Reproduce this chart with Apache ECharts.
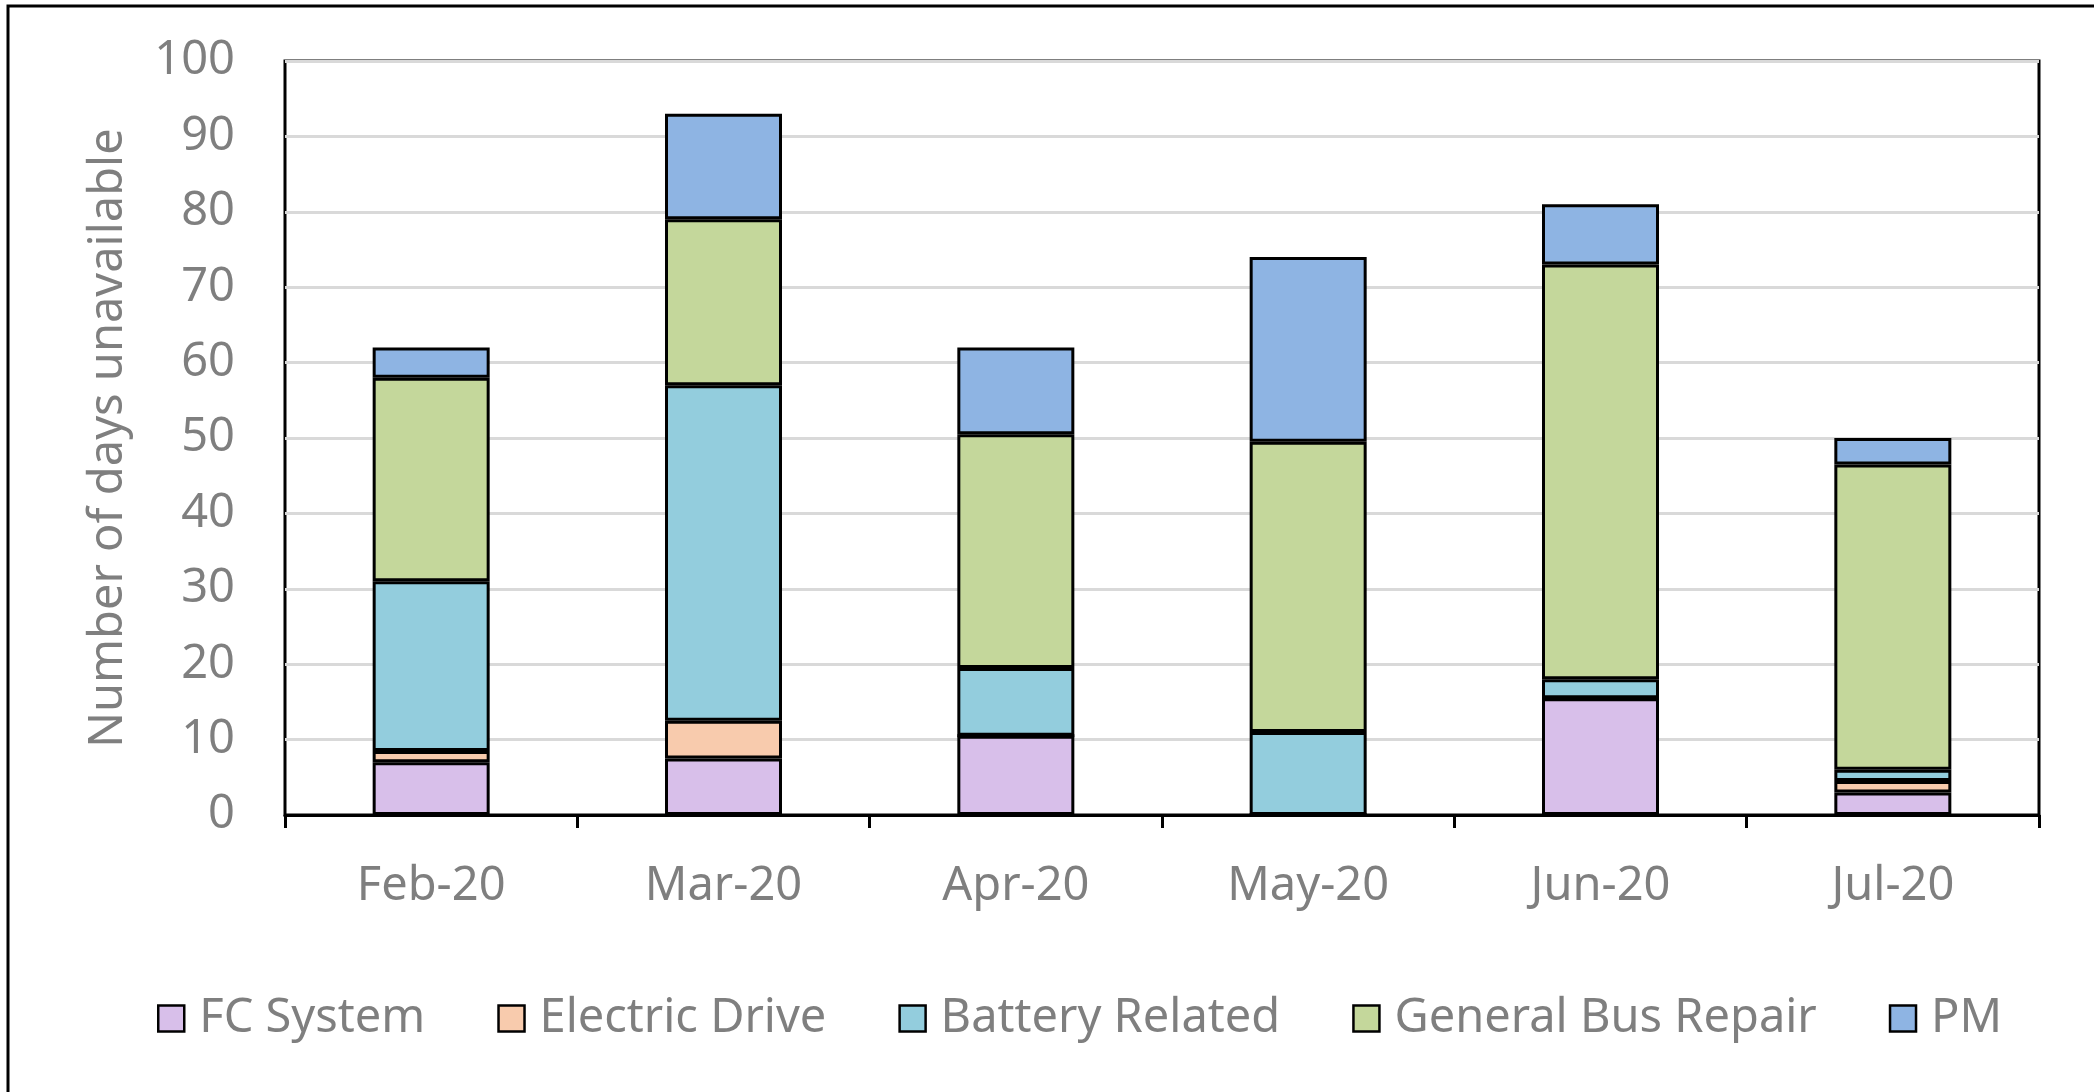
<!DOCTYPE html>
<html>
<head>
<meta charset="utf-8">
<script src="https://cdn.jsdelivr.net/npm/echarts@6/dist/echarts.min.js"></script>
<style>
html,body{margin:0;padding:0;background:#fff;}
#chart{width:2094px;height:1092px;}
</style>
</head>
<body>
<div id="chart"></div>
<script>
const categories = ['Feb-20', 'Mar-20', 'Apr-20', 'May-20', 'Jun-20', 'Jul-20'];
const fcSystem = [7, 7.5, 10.5, 0, 15.5, 3];
const electricDrive = [1.5, 5, 0, 0, 0, 1.5];
const batteryRelated = [22.5, 44.5, 9, 11, 2.5, 1.5];
const generalBusRepair = [27, 22, 31, 38.5, 55, 40.5];
const pm = [4, 14, 11.5, 24.5, 8, 3.5];
const yTicks = [0, 10, 20, 30, 40, 50, 60, 70, 80, 90, 100];

const seriesDefs = [
  ['FC System', fcSystem, '#D8BFEA'],
  ['Electric Drive', electricDrive, '#F8CBAD'],
  ['Battery Related', batteryRelated, '#93CDDD'],
  ['General Bus Repair', generalBusRepair, '#C4D79B'],
  ['PM', pm, '#8EB4E3']
];

const FONT = '"Noto Sans", "Open Sans", sans-serif';
const GRAY = '#7F7F7F';
const FS = 47;

const chart = echarts.init(document.getElementById('chart'), null, {renderer: 'canvas'});
chart.setOption({
  animation: false,
  backgroundColor: '#ffffff',
  textStyle: {fontFamily: FONT},
  graphic: [{
    type: 'polyline',
    shape: {points: [[8, 1100], [8, 6], [2100, 6]]},
    style: {stroke: '#000', lineWidth: 3, fill: null}
  }],
  grid: {
    left: 285, right: 55, top: 61, bottom: 277,
    show: true, borderColor: '#000', borderWidth: 3, backgroundColor: 'transparent'
  },
  legend: {
    left: 152, top: 990,
    itemWidth: 26, itemHeight: 26, itemGap: 72,
    icon: 'rect',
    itemStyle: {borderColor: '#000', borderWidth: 2.5},
    textStyle: {fontFamily: FONT, fontSize: FS, color: GRAY, padding: [0, 0, 0, 10]},
    data: seriesDefs.map(d => d[0])
  },
  xAxis: {
    type: 'category',
    data: categories,
    axisLine: {lineStyle: {color: '#000', width: 3}},
    axisTick: {show: true, length: 13, lineStyle: {color: '#000', width: 3}},
    axisLabel: {fontFamily: FONT, fontSize: FS, color: GRAY, margin: 48}
  },
  yAxis: {
    type: 'value',
    min: 0, max: 100, interval: 10,
    name: 'Number of days unavailable',
    nameLocation: 'middle',
    nameGap: 153,
    nameTextStyle: {fontFamily: FONT, fontSize: FS, color: GRAY},
    axisLine: {show: false},
    axisTick: {show: false},
    axisLabel: {fontFamily: FONT, fontSize: FS, color: GRAY, margin: 50,
      formatter: v => yTicks.includes(v) ? String(v) : ''},
    splitLine: {lineStyle: {color: '#D9D9D9', width: 3}}
  },
  series: seriesDefs.map(d => ({
    name: d[0],
    type: 'bar',
    stack: 'total',
    data: d[1],
    barWidth: 117,
    itemStyle: {color: d[2], borderColor: '#000', borderWidth: 3}
  }))
});
</script>
</body>
</html>
